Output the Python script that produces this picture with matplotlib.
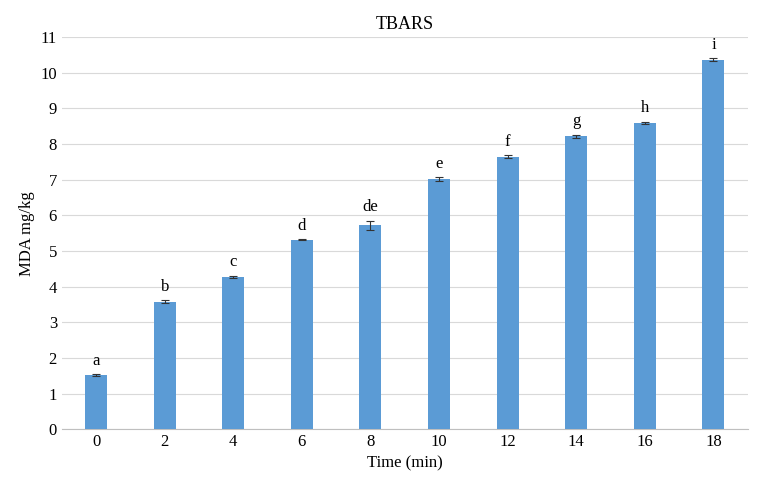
import matplotlib
matplotlib.use("Agg")
import matplotlib.pyplot as plt

times = ["0", "2", "4", "6", "8", "10", "12", "14", "16", "18"]
values = [1.52, 3.58, 4.28, 5.32, 5.72, 7.02, 7.65, 8.22, 8.60, 10.37]
errors = [0.02, 0.04, 0.03, 0.02, 0.13, 0.05, 0.03, 0.04, 0.03, 0.04]
letters = ["a", "b", "c", "d", "de", "e", "f", "g", "h", "i"]

plt.rcParams["font.family"] = "Liberation Serif"
fig = plt.figure(figsize=(7.63, 4.95), dpi=100)
ax = fig.add_axes([0.081, 0.133, 0.899, 0.792])
x = range(len(times))
ax.bar(x, values, width=0.32, color="#5b9bd5", yerr=errors, capsize=3,
       error_kw=dict(ecolor="#333333", elinewidth=0.8, capthick=0.8), zorder=3)
for i, (v, e, l) in enumerate(zip(values, errors, letters)):
    ax.text(i, v + e + 0.15, l, ha="center", va="bottom", fontsize=12)
ax.set_ylim(0, 11)
ax.set_yticks(range(0, 12))
ax.set_xlim(-0.5, len(times) - 0.5)
ax.set_xticks(list(x))
ax.set_xticklabels(times)
ax.tick_params(length=0, labelsize=12)
ax.grid(axis="y", color="#d9d9d9", linewidth=0.8, zorder=0)
for s in ["top", "right", "left"]:
    ax.spines[s].set_visible(False)
ax.spines["bottom"].set_color("#bfbfbf")
ax.set_title("TBARS", fontsize=13, pad=6)
ax.set_xlabel("Time (min)", fontsize=12)
ax.set_ylabel("MDA mg/kg", fontsize=12)
fig.savefig("out.png", dpi=100)
